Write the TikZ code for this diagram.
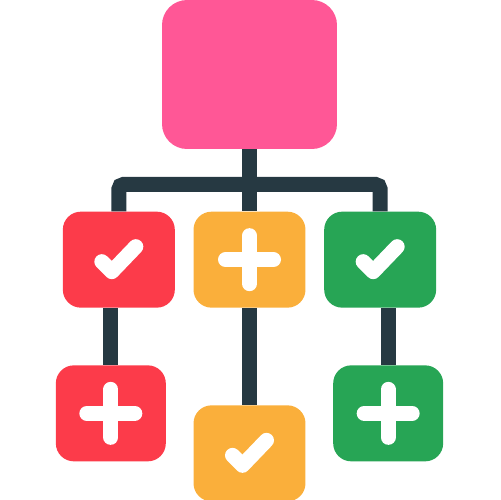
\documentclass[tikz,border=0pt]{standalone}
\usepackage{tikz}
\usetikzlibrary{positioning}

\definecolor{hotpink}{RGB}{255,87,150}
\definecolor{redbox}{RGB}{252,59,74}
\definecolor{amber}{RGB}{250,175,59}
\definecolor{leaf}{RGB}{39,165,85}
\definecolor{slate}{RGB}{38,57,66}

\tikzset{
  box/.style={rectangle, rounded corners=0.36cm, minimum width=2.24cm, minimum height=1.92cm, inner sep=0pt},
  link/.style={draw=slate, line width=0.3cm},
  sign/.style={draw=white, line width=0.3cm, line cap=round, line join=round},
  plussign/.pic={\draw[sign] (-24,0) -- (24,0) (0,-24) -- (0,24);},
  checkmark/.pic={\draw[sign] (-17,2) -- (-7,12) -- (17,-13);}
}

\begin{document}
\begin{tikzpicture}[x=0.02cm, y=-0.02cm, node distance=0.36cm]
\useasboundingbox (0,0) rectangle (500,500);

\node[box, fill=hotpink, minimum width=3.5cm, minimum height=2.98cm, rounded corners=0.5cm] (chart) at (249.5,74.5) {};
\node[box, fill=amber, below=1.24cm of chart] (o1) {};
\node[box, fill=redbox, left=of o1] (r1) {};
\node[box, fill=leaf, right=of o1] (g1) {};
\node[box, fill=redbox, minimum width=2.2cm, below=1.14cm of r1, xshift=-0.16cm] (r2) {};
\node[box, fill=amber, below=1.94cm of o1] (o2) {};
\node[box, fill=leaf, minimum width=2.2cm, below=1.14cm of g1, xshift=0.16cm] (g2) {};
\coordinate[below=0.7cm of chart] (split);

% tree lines
\draw[link] (chart) -- (o1);
\draw[link, rounded corners=0.1cm] (split) -| (r1);
\draw[link, rounded corners=0.1cm] (split) -| (g1);
\draw[link] (r2 |- r1.south) -- (r2);
\draw[link] (o1) -- (o2);
\draw[link] (g2 |- g1.south) -- (g2);

% icons
\pic at (r1) {checkmark};
\pic at (o1) {plussign};
\pic at (g1) {checkmark};
\pic at (r2) {plussign};
\pic at (o2) {checkmark};
\pic at (g2) {plussign};

\end{tikzpicture}
\end{document}
